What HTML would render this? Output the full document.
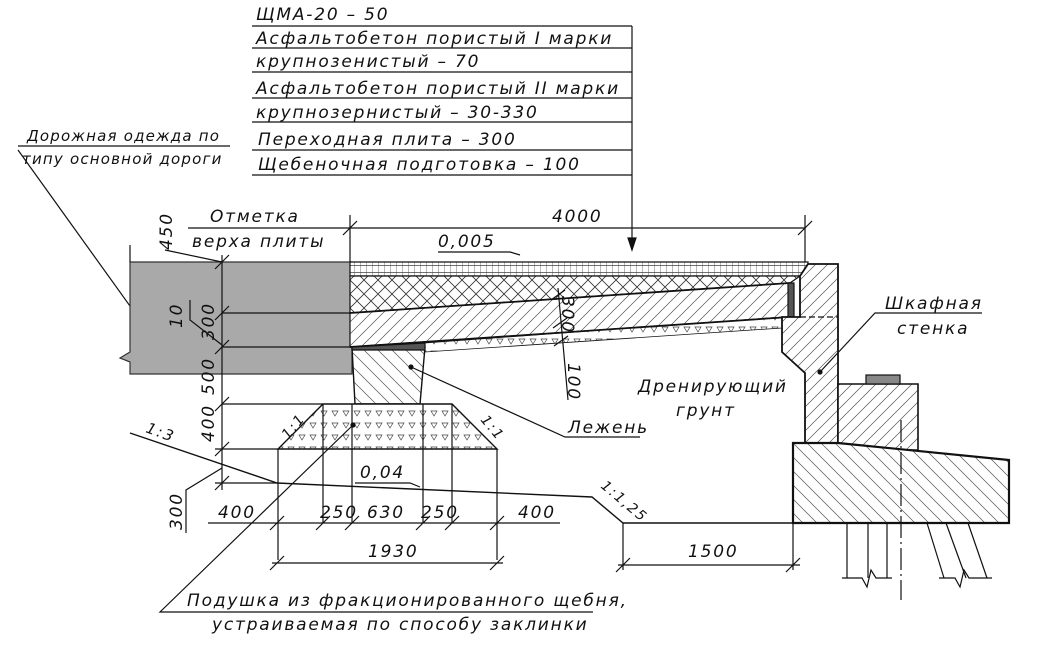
<!DOCTYPE html>
<html><head><meta charset="utf-8"><style>
html,body{margin:0;padding:0;background:#fff;}
svg{display:block;}
text{font-family:"DejaVu Sans","Liberation Sans",sans-serif;font-style:italic;fill:#111;font-size:17px;letter-spacing:1.8px;}
</style></head><body>
<svg width="1046" height="664" viewBox="0 0 1046 664" xmlns="http://www.w3.org/2000/svg">
<defs>
<pattern id="grid" width="6" height="7" patternUnits="userSpaceOnUse"><rect width="6" height="7" fill="#fff"/><path d="M0 0V7" stroke="#333" stroke-width="0.7"/><path d="M0 6.5H6" stroke="#333" stroke-width="0.7"/></pattern>
<pattern id="cross" width="14" height="14" patternUnits="userSpaceOnUse"><rect width="14" height="14" fill="#fff"/><path d="M0 0L14 14M14 0L0 14" stroke="#333" stroke-width="0.8"/></pattern>
<pattern id="hatch" width="12" height="12" patternUnits="userSpaceOnUse"><rect width="12" height="12" fill="#fff"/><path d="M0 12L12 0M-3 3L3 -3M9 15L15 9" stroke="#555" stroke-width="0.7"/></pattern>
<pattern id="hatch2" width="14" height="14" patternUnits="userSpaceOnUse"><rect width="14" height="14" fill="#fff"/><path d="M0 0L14 14M-7 7L7 21M7 -7L21 7" stroke="#555" stroke-width="0.7"/></pattern>
<pattern id="tri" width="11" height="12" patternUnits="userSpaceOnUse"><rect width="11" height="12" fill="#fff"/><path d="M2 3H8L5 8Z" fill="none" stroke="#444" stroke-width="0.7"/></pattern>
</defs>
<g stroke="#111" fill="none" stroke-width="1.2">
<path d="M252 26H632M252 48H632M252 72H632M252 98H632M252 122H632M252 150H632M252 175H632"/>
<path d="M632 26V250"/>
<path d="M632 250L628 238H636Z" fill="#111"/>
<path d="M18 146H230M18 150L140 320"/>
<circle cx="140" cy="320" r="2" fill="#111"/>
<path d="M130 262H352V374H130V362L120 358L130 352Z" fill="#a9a9a9" stroke="#333"/>
<path d="M350 262H808V276H350Z" fill="url(#grid)"/>
<path d="M350 276H800L790 283L350 313Z" fill="url(#cross)"/>
<path d="M350 313L790 283V317L350 347Z" fill="url(#hatch)"/>
<path d="M425 343L782 317V328L425 352Z" fill="url(#tri)" stroke-width="0.8"/>
<path d="M350 313L790 283M350 347L790 317" stroke-width="1.8"/>
<rect x="788" y="283" width="6" height="34" fill="#555"/>
<path d="M352 347H425L420 404H355Z" fill="url(#hatch2)" stroke-width="1.4"/>
<path d="M352 347L425 343V350L352 350Z" fill="#555"/>
<circle cx="411" cy="367" r="2" fill="#111"/>
<path d="M411 367L565 437H640"/>
<path d="M323 404H452L497 449H278Z" fill="url(#tri)" stroke-width="1.4"/>
<path d="M323 404V523M352 404V523M423 404V523M452 404V523M278 449V560M497 449V560"/>
<circle cx="353" cy="425" r="2" fill="#111"/>
<path d="M353 425L160 612H593"/>
<path d="M808 264H838V443H805V373L782 352V317H800V276Z" fill="url(#hatch)" stroke-width="1.8"/>
<path d="M800 317H838" stroke-dasharray="6 3"/>
<circle cx="820" cy="372" r="2" fill="#111"/>
<path d="M820 372L875 313H982"/>
<path d="M838 384H918V450H838Z" fill="url(#hatch)" stroke-width="1.6"/>
<rect x="866" y="375" width="34" height="9" fill="#888" stroke="#111"/>
<path d="M793 443H838L1009 460V523H793Z" fill="url(#hatch2)" stroke-width="2.2"/>
<path d="M847 523V578M868 523V578M887 523V578M927 523L944 578M946 523L966 578M968 523L987 578"/>
<path d="M842 578H862L867 587L871 570L876 578H892M939 578H955L960 587L964 570L969 578H992"/>
<path d="M901 420V600" stroke-dasharray="22 4 2 4"/>
<path d="M130 433L277 483L592 497L623 523H793" stroke-width="1.4"/>
<path d="M188 228H805M350 215V262M805 215V262M343 235L357 221M798 235L812 221"/>
<path d="M438 252H510L520 255"/>
<path d="M222 255V490M130 245V262M165 250L222 262"/>
<path d="M215 269L229 255M215 320L229 306M215 354L229 340M215 411L229 397M215 456L229 442M215 490L229 476"/>
<path d="M222 313H350M222 347H352"/>
<path d="M222 404H323M215 449H278M215 483H277"/>
<path d="M190 300V320L222 345"/>
<path d="M186 533V490L222 468"/>
<path d="M558 288L568 400M551 300L565 290M553 328L567 318M554 346L568 336"/>
<path d="M208 523H560M270 530L284 516M316 530L330 516M345 530L359 516M416 530L430 516M445 530L459 516M490 530L504 516"/>
<path d="M272 563H503M270 570L284 556M490 570L504 556"/>
<path d="M623 523V570M793 523V570M618 565H800M616 572L630 558M786 572L800 558"/>
<path d="M355 483H410L420 487"/>
</g>
<g>
<text x="256" y="20">ЩМА-20 – 50</text>
<text x="256" y="44">Асфальтобетон пористый I марки</text>
<text x="256" y="67">крупнозенистый – 70</text>
<text x="256" y="94">Асфальтобетон пористый II марки</text>
<text x="256" y="118">крупнозернистый – 30-330</text>
<text x="258" y="145">Переходная плита – 300</text>
<text x="258" y="170">Щебеночная подготовка – 100</text>
<text x="27" y="141" style="font-size:15px;letter-spacing:1.2px">Дорожная одежда по</text>
<text x="22" y="164" style="font-size:15px;letter-spacing:1.2px">типу основной дороги</text>
<text x="210" y="222">Отметка</text>
<text x="192" y="247">верха плиты</text>
<text x="552" y="222">4000</text>
<text x="438" y="247">0,005</text>
<text x="885" y="309">Шкафная</text>
<text x="897" y="334">стенка</text>
<text x="638" y="392">Дренирующий</text>
<text x="676" y="416">грунт</text>
<text x="568" y="433">Лежень</text>
<text x="360" y="478">0,04</text>
<text x="218" y="518">400</text>
<text x="320" y="518">250</text>
<text x="367" y="518">630</text>
<text x="421" y="518">250</text>
<text x="518" y="518">400</text>
<text x="368" y="557">1930</text>
<text x="688" y="557">1500</text>
<text x="187" y="606">Подушка из фракционированного щебня,</text>
<text x="212" y="630">устраиваемая по способу заклинки</text>
<text transform="translate(172,250) rotate(-90)">450</text>
<text transform="translate(214,340) rotate(-90)">300</text>
<text transform="translate(182,328) rotate(-90)">10</text>
<text transform="translate(214,395) rotate(-90)">500</text>
<text transform="translate(214,442) rotate(-90)">400</text>
<text transform="translate(182,530) rotate(-90)">300</text>
<text transform="translate(562,296) rotate(90)">300</text>
<text transform="translate(568,363) rotate(90)">100</text>
<text transform="translate(145,432) rotate(20)" style="font-size:15px">1:3</text>
<text transform="translate(288,440) rotate(-50)" style="font-size:14px">1:1</text>
<text transform="translate(480,420) rotate(50)" style="font-size:14px">1:1</text>
<text transform="translate(600,487) rotate(40)" style="font-size:14px">1:1,25</text>
</g>
</svg>
</body></html>
